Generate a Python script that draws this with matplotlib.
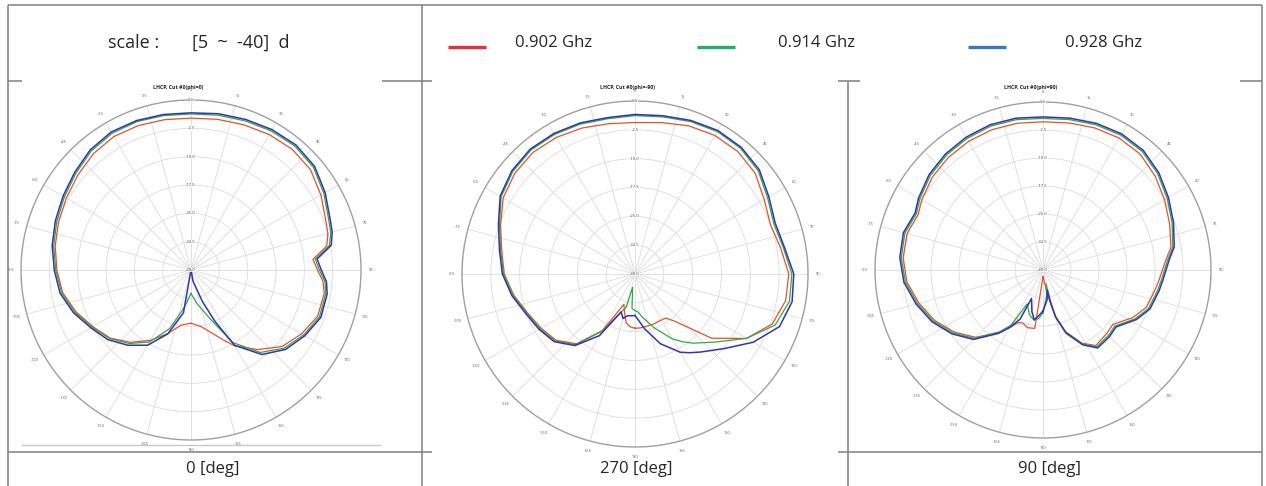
import numpy as np
import matplotlib
matplotlib.use("Agg")
import matplotlib.pyplot as plt
from matplotlib.patches import Rectangle

plt.rcParams['font.family'] = ['Open Sans', 'DejaVu Sans']

# ---------------- data ----------------
freq_labels = ["0.902 Ghz", "0.914 Ghz", "0.928 Ghz"]
cut_labels = ["0 [deg]", "270 [deg]", "90 [deg]"]
plot_titles = ["LHCP, Cut #0(phi=0)", "LHCP, Cut #0(phi=-90)", "LHCP, Cut #0(phi=90)"]
scale_label = "scale :"
scale_range = "[5  ~  -40]  d"
r_min, r_max = -40, 5
ring_values = [5, -2.5, -10, -17.5, -25, -32.5, -40]
ring_labels = ["5.0", "-2.5", "-10.0", "-17.5", "-25.0", "-32.5", "-40.0"]
theta_ticks = list(range(0, 360, 15))
theta_tick_labels = ["0", "15", "30", "45", "60", "75", "90", "105", "120", "135", "150", "165",
                     "180", "-165", "-150", "-135", "-120", "-105", "-90", "-75", "-60", "-45", "-30", "-15"]

# Plot 1 (cut 0 deg)
theta_p1 = [-180, -170, -160, -150, -140, -130, -120, -110, -100, -90, -80, -70, -60, -50, -40, -30,
            -20, -10, 0, 10, 20, 30, 40, 50, 60, 70, 75, 80, 85, 90, 95, 100, 110, 120, 130, 140,
            150, 155, 160, 170, 180]
red_p1 = [-25.9, -25.2, -22.1, -18.5, -15.0, -12.0, -10.0, -7.6, -5.5, -4.5, -3.5, -2.7, -1.9, -0.9,
          0.2, 0.8, 0.7, 0.4, 0.2, 0.5, 0.9, 1.4, 1.7, 1.3, -0.3, -2.0, -2.5, -3.5, -7.6, -6.5, -4.9,
          -4.2, -4.3, -6.2, -8.5, -12.5, -16.8, -19.5, -21.8, -24.8, -25.9]
green_p1 = [-33.8, -30, -23.5, -18, -14.6, -11.8, -9.8, -7.3, -5.2, -4.2, -3.1, -2.2, -1.3, -0.2,
            1.1, 1.8, 1.8, 1.5, 1.3, 1.6, 2.0, 2.5, 2.8, 2.3, 0.6, -1.2, -1.7, -2.8, -7.0, -6.0, -4.4,
            -3.8, -3.8, -5.6, -7.8, -11.5, -17.8, -23.5, -27, -31, -33.8]
blue_p1 = [-40, -28.5, -22, -17, -14, -11.3, -9.4, -6.9, -4.8, -3.8, -2.7, -1.8, -0.9, 0.2, 1.5,
           2.2, 2.1, 1.8, 1.6, 2.0, 2.4, 2.9, 3.2, 2.7, 1.0, -0.8, -1.3, -2.3, -6.5, -5.5, -4.0,
           -3.4, -3.4, -5.2, -7.3, -10.8, -17, -25, -31, -37, -40]

# Plot 2 (cut 270 deg)
theta_p2 = [-180, -175, -170, -165, -160, -150, -140, -130, -120, -110, -100, -90, -80, -70, -60,
            -50, -40, -30, -20, -10, 0, 10, 20, 30, 40, 50, 60, 70, 80, 90, 100, 110, 120, 130,
            140, 145, 150, 160, 170, 175, 180]
red_p2 = [-25.9, -26.2, -27.0, -29.5, -31.6, -23, -16.3, -13.2, -11.8, -10.3, -8.0, -6.0, -4.8,
          -2.8, -0.4, 0.8, 1.3, 1.0, 0.4, -0.3, -0.6, 0.0, 1.0, 1.6, 1.6, 0.8, -1.2, -2.5, -1.5,
          0.0, -0.2, -2.0, -6.5, -14, -24, -26, -26.2, -26.1, -26.0, -25.9, -25.9]
green_p2 = [-30.5, -31, -36.5, -31, -29.5, -22.8, -16, -12.9, -11.5, -10.1, -7.8, -5.8, -4.5, -2.5,
            0.2, 1.5, 2.1, 1.9, 1.5, 1.0, 1.2, 1.5, 2.2, 2.8, 2.7, 1.8, -0.2, -1.6, -0.8, 0.8, 0.8,
            -1.2, -6.5, -12.5, -16.5, -18.5, -20.5, -25, -28.5, -30, -30.5]
blue_p2 = [-29.2, -29.1, -29, -28, -29.5, -21.5, -15.7, -12.6, -11.2, -9.8, -7.5, -5.5, -4.2, -2.2,
           0.5, 1.8, 2.4, 2.2, 1.8, 1.3, 1.5, 1.8, 2.5, 3.1, 3.0, 2.2, 0.2, -1.2, -0.5, 1.3, 1.5,
           0.0, -4.5, -9.8, -13.5, -15, -16.5, -20.7, -25.5, -27.7, -29.2]

# Plot 3 (cut 90 deg)
theta_red_p3 = [-180, -172, -165, -159, -155, -150, -145, -135, -125, -115, -105, -95, -85, -75,
                -66, -60, -50, -40, -30, -20, -10, 0, 10, 20, 30, 40, 50, 60, 70, 80, 85, 95, 100,
                110, 118, 128, 135, 145, 152, 160, 165, 169, 180]
red_p3 = [-38.2, -24.2, -24.0, -24.8, -24.5, -22.2, -19.6, -14.5, -11.0, -8.0, -5.6, -3.4, -2.4,
          -2.3, -3.4, -2.5, -1.3, -0.6, -0.2, 0.0, -0.1, -0.3, 0.0, 0.5, 0.8, 0.5, -0.8, -2.4, -3.9,
          -5.2, -6.9, -8.8, -9.5, -10.6, -12.8, -16.3, -15.9, -15.3, -17.8, -22.5, -27, -32.7, -38.2]
theta_green_p3 = [-180, -175, -170, -163, -155, -150, -145, -135, -125, -115, -105, -95, -85, -75,
                  -66, -60, -50, -40, -30, -20, -10, 0, 10, 20, 30, 40, 50, 60, 70, 80, 85, 95, 100,
                  110, 118, 128, 135, 145, 152, 160, 165, 167, 168, 172, 180]
green_p3 = [-28.5, -27, -26.3, -27.5, -30, -23, -19.8, -14.1, -10.6, -7.6, -5.2, -3.0, -1.9, -1.7,
            -2.9, -1.9, -0.6, 0.2, 0.7, 1.0, 0.9, 0.6, 0.9, 1.4, 1.7, 1.4, 0.1, -1.6, -3.2, -4.7,
            -6.4, -8.2, -8.8, -9.9, -12.1, -15.6, -15.2, -14.9, -17.6, -22.3, -27.2, -31.5, -36.3,
            -33, -28.5]
theta_blue_p3 = [-180, -175, -170, -165, -158, -155, -150, -145, -135, -125, -115, -105, -95, -85,
                 -75, -66, -60, -50, -40, -30, -20, -10, 0, 10, 20, 30, 40, 50, 60, 70, 80, 85, 95,
                 100, 110, 118, 128, 135, 145, 152, 160, 165, 167, 168, 172, 180]
blue_p3 = [-29, -27.8, -26.5, -28.5, -31.8, -25.5, -22.3, -19.3, -13.7, -10.2, -7.2, -4.8, -2.6,
           -1.5, -1.3, -2.5, -1.5, -0.2, 0.6, 1.1, 1.4, 1.3, 1.0, 1.3, 1.8, 2.1, 1.8, 0.5, -1.2,
           -2.8, -4.3, -6.0, -7.8, -8.4, -9.5, -11.7, -15.2, -14.8, -14.5, -17.3, -22, -27, -31,
           -34.5, -32, -29]

plots = [
    [(theta_p1, red_p1), (theta_p1, green_p1), (theta_p1, blue_p1)],
    [(theta_p2, red_p2), (theta_p2, green_p2), (theta_p2, blue_p2)],
    [(theta_red_p3, red_p3), (theta_green_p3, green_p3), (theta_blue_p3, blue_p3)],
]

# ---------------- styling / layout ----------------
W, H = 1266, 486
fig = plt.figure(figsize=(W / 100, H / 100), dpi=100)
fig.patch.set_facecolor('white')

bg = fig.add_axes([0, 0, 1, 1])
bg.set_xlim(0, W)
bg.set_ylim(H, 0)
bg.axis('off')

line_kw = dict(color='#808080', lw=1.1, solid_capstyle='butt', zorder=1)
row1_y, row2_y = 81, 452
bg.plot([8, 1262], [5, 5], **line_kw)
bg.plot([8, 8], [5, H], **line_kw)
bg.plot([1262, 1262], [5, H], **line_kw)
bg.plot([422, 422], [5, H], **line_kw)
bg.plot([848, 848], [row1_y, H], **line_kw)
bg.plot([8, 1262], [row1_y, row1_y], **line_kw)
bg.plot([8, 1262], [row2_y, row2_y], **line_kw)

# image areas (white, covering table lines)
for (x0, y0, x1, y1) in [(22, row1_y - 1, 382, 447), (432, row1_y - 3, 838, 457), (860, row1_y - 1, 1240, 450)]:
    bg.add_patch(Rectangle((x0, y0), x1 - x0, y1 - y0, facecolor='white', edgecolor='none', zorder=2))
bg.plot([22, 380], [445, 445], color='#c8c8c8', lw=1.0, zorder=3)

txt_color = '#262626'
bg.text(108, 43, scale_label, fontsize=13, ha='left', va='center', color=txt_color, zorder=4)
bg.text(192, 43, scale_range, fontsize=13, ha='left', va='center', color=txt_color, zorder=4)

legend_colors = ['#e8303a', '#22b062', '#3a78bc']
leg_line_x = [(448, 486), (697, 735), (968, 1006)]
leg_text_x = [515, 778, 1065]
for c, (xa, xb), tx, lab in zip(legend_colors, leg_line_x, leg_text_x, freq_labels):
    bg.plot([xa, xb], [47, 47], color=c, lw=2.4, solid_capstyle='butt', zorder=4)
    bg.text(tx, 43, lab, fontsize=12, ha='left', va='center', color=txt_color, zorder=4)

for cx, lab in zip([213, 636, 1050], cut_labels):
    bg.text(cx, 469, lab, fontsize=12, ha='center', va='center', color=txt_color, zorder=4)

series_colors = ['#e8502c', '#2fa84a', '#3434b0']
series_widths = [0.9, 0.9, 1.1]
polar_geo = [(191, 270, 170), (635, 274, 173), (1043, 270, 168)]
title_pos = [(178, 87), (628, 87), (1031, 88)]

for (cx, cy, R), series, title, (tx, ty) in zip(polar_geo, plots, plot_titles, title_pos):
    ax = fig.add_axes([(cx - R) / W, (H - cy - R) / H, 2 * R / W, 2 * R / H], projection='polar')
    ax.set_zorder(5)
    ax.set_facecolor('white')
    ax.set_theta_zero_location('N')
    ax.set_theta_direction(-1)
    ax.set_ylim(r_min, r_max)
    ax.set_yticks(ring_values[1:-1])
    ax.set_yticklabels([])
    ax.set_thetagrids(theta_ticks, theta_tick_labels, fontsize=2.8, color='#555555')
    ax.tick_params(axis='x', pad=-3)
    ax.grid(True, color='#dcdcdc', lw=0.6)
    ax.spines['polar'].set_color('#a0a0a0')
    ax.spines['polar'].set_linewidth(1.0)
    for (th, vals), c, lw in zip(series, series_colors, series_widths):
        ax.plot(np.deg2rad(th), vals, color=c, lw=lw)
    for rv, rl in zip(ring_values, ring_labels):
        ax.text(0, rv, rl, fontsize=3, ha='center', va='center', color='#444444',
                bbox=dict(facecolor='white', edgecolor='none', pad=0.2, alpha=0.8))
    bg.text(tx, ty, title, fontsize=3.8, ha='center', va='center', color='#222222',
            fontweight='bold', zorder=6)

fig.savefig('out.png', dpi=100, facecolor='white')
